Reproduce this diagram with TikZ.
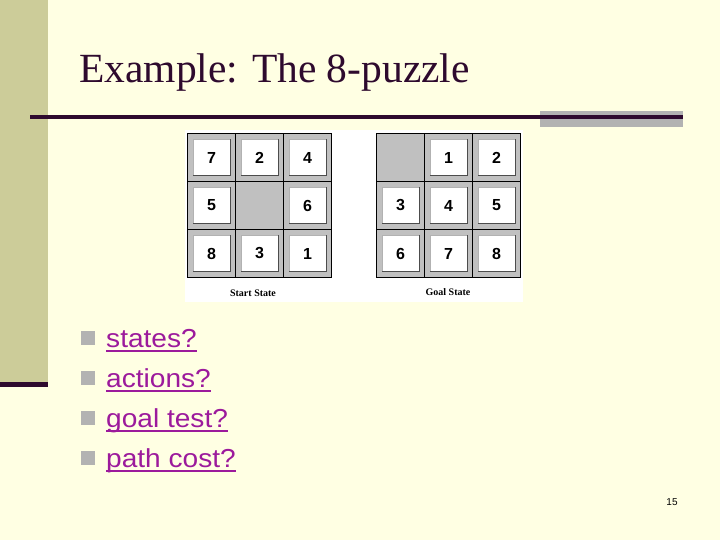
\documentclass[tikz,border=0pt]{standalone}
\usepackage{fontspec}
\setmainfont{Liberation Serif}
\setsansfont{Liberation Sans}
\definecolor{bgc}{HTML}{FFFFE3}
\definecolor{khaki}{HTML}{CCCC99}
\definecolor{darkp}{HTML}{2E0A2E}
\definecolor{barg}{HTML}{B2B2B2}
\definecolor{linkc}{HTML}{9C1A9C}
\definecolor{cellg}{HTML}{C0C0C0}
\begin{document}
\begin{tikzpicture}[x=1pt,y=-1pt,
  tile/.style={minimum width=37pt,minimum height=36pt,inner sep=0pt,fill=white,draw=gray!60,line width=0.6pt,
     font=\sffamily\bfseries\fontsize{16}{16}\selectfont},
  tileshadow/.style={draw=black!70,line width=1.1pt},
  gridline/.style={draw=black,line width=1.3pt},
  bullettext/.style={anchor=base west,inner sep=0pt,text=linkc,xscale=1.08,font=\sffamily\fontsize{26}{26}\selectfont},
  ulink/.style={draw=linkc,line width=1.8pt},
  bulletsq/.style={fill=barg,minimum size=14pt,inner sep=0pt}]
\useasboundingbox (0,0) rectangle (720,540);
\fill[bgc] (0,0) rectangle (720,540);
% left bar
\fill[khaki] (0,0) rectangle (48,382);
\fill[darkp] (0,382) rectangle (48,387);
% title
\node[anchor=base west,inner sep=0pt,text=darkp,font=\fontsize{41.5}{42}\selectfont] (title) at (79,83) {Example: The 8-puzzle};
% rule
\fill[barg] (540,111) rectangle (683,127);
\fill[darkp] (30,115) rectangle (683,119);
% picture background
\fill[white] (185,130) rectangle (523,302);
% grids
\foreach \gx/\gn/\vals in {187.5/s/{7,2,4,5,0,6,8,3,1},376.5/g/{0,1,2,3,4,5,6,7,8}}{
  \fill[cellg] (\gx,133.5) rectangle ++(144,144);
  \foreach \v [count=\k from 0] in \vals {
    \pgfmathtruncatemacro{\c}{mod(\k,3)}
    \pgfmathtruncatemacro{\r}{int(\k/3)}
    \ifnum\v=0\else
      \node[tile] (\gn\k) at ({\gx+(\c+0.5)*48},{133.5+(\r+0.5)*48}) {\v};
      \draw[tileshadow] (\gn\k.north east) -- (\gn\k.south east) -- (\gn\k.south west);
    \fi
  }
  \draw[gridline] (\gx,133.5) rectangle ++(144,144);
  \foreach \i in {1,2}{
    \draw[gridline] ({\gx+\i*48},133.5) -- ++(0,144);
    \draw[gridline] (\gx,{133.5+\i*48}) -- ++(144,0);
  }
}
\node[font=\bfseries\fontsize{10}{10}\selectfont,inner sep=0pt] (startlbl) at (253,293) {Start State};
\node[font=\bfseries\fontsize{10}{10}\selectfont,inner sep=0pt] (goallbl) at (448,292) {Goal State};
% bullets
\foreach \t [count=\n from 0] in {states?,actions?,goal test?,path cost?}{
  \node[bulletsq] (sq\n) at (88,{338+\n*40}) {};
  \node[bullettext] (b\n) at (106,{347+\n*40}) {\t};
  \draw[ulink] ([yshift=-4pt]b\n.base west) -- ([yshift=-4pt]b\n.base east);
}
% page number
\node[anchor=base,inner sep=0pt,font=\sffamily\fontsize{10}{10}\selectfont] (pg) at (672,505) {15};
\end{tikzpicture}
\end{document}
